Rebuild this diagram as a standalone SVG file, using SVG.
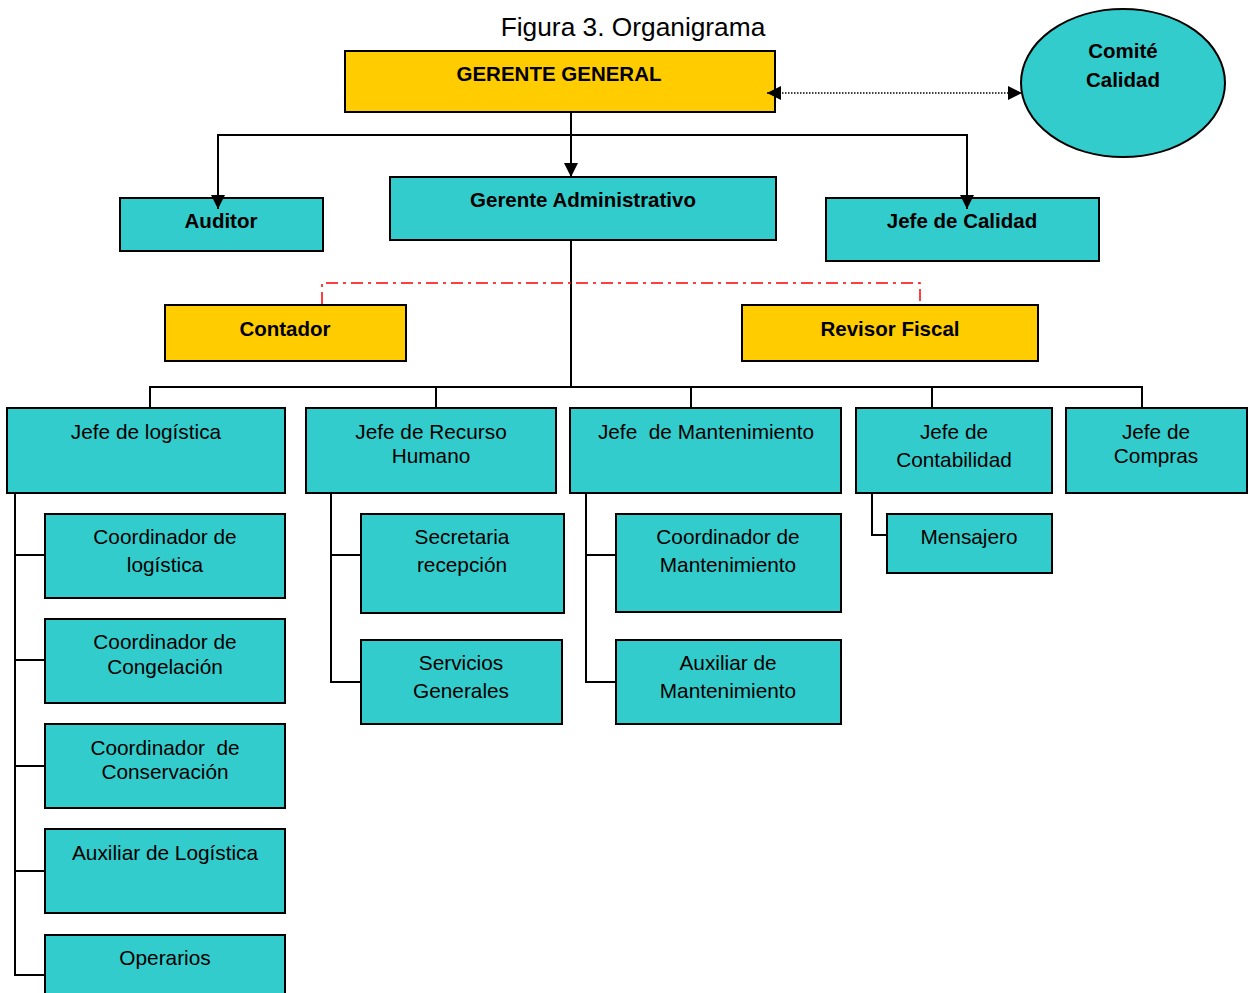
<svg xmlns="http://www.w3.org/2000/svg" width="1249" height="993" viewBox="0 0 1249 993">
<defs>
<marker id="arr" viewBox="0 0 10 10" refX="10" refY="5" markerWidth="14" markerHeight="14" markerUnits="userSpaceOnUse" orient="auto-start-reverse">
<path d="M0,0 L10,5 L0,10 z" fill="#000"/>
</marker>
<style>
.y{fill:#FFCC00;stroke:#000;stroke-width:2}
.c{fill:#33CCCC;stroke:#000;stroke-width:2}
.b{font-family:"Liberation Sans",Arial,sans-serif;font-weight:bold;font-size:20.5px;fill:#000;text-anchor:middle}
.t{font-family:"Liberation Sans",Arial,sans-serif;font-size:20.8px;fill:#000;text-anchor:middle}
.l{fill:none;stroke:#000;stroke-width:2}
</style>
</defs>
<rect width="1249" height="993" fill="#fff"/>
<text x="633" y="36" font-family="Liberation Sans, Arial, sans-serif" font-size="26.3" text-anchor="middle">Figura 3. Organigrama</text>

<g id="gerente-general"><rect class="y" x="345" y="51" width="430" height="61"/><text class="b" x="559" y="81">GERENTE GENERAL</text></g>
<g id="comite-calidad"><ellipse cx="1123" cy="83" rx="102" ry="74" fill="#33CCCC" stroke="#000" stroke-width="2"/><text class="b" x="1123" y="58">Comité</text><text class="b" x="1123" y="87">Calidad</text></g>
<g id="auditor"><rect class="c" x="120" y="198" width="203" height="53"/><text class="b" x="221" y="228">Auditor</text></g>
<g id="gerente-administrativo"><rect class="c" x="390" y="177" width="386" height="63"/><text class="b" x="583" y="207">Gerente Administrativo</text></g>
<g id="jefe-calidad"><rect class="c" x="826" y="198" width="273" height="63"/><text class="b" x="962" y="228">Jefe de Calidad</text></g>
<g id="contador"><rect class="y" x="165" y="305" width="241" height="56"/><text class="b" x="285" y="336">Contador</text></g>
<g id="revisor-fiscal"><rect class="y" x="742" y="305" width="296" height="56"/><text class="b" x="890" y="336">Revisor Fiscal</text></g>

<g id="jefe-logistica"><rect class="c" x="7" y="408" width="278" height="85"/><text class="t" x="146" y="439">Jefe de logística</text></g>
<g id="jefe-rrhh"><rect class="c" x="306" y="408" width="250" height="85"/><text class="t" x="431" y="439">Jefe de Recurso</text><text class="t" x="431" y="463">Humano</text></g>
<g id="jefe-mantenimiento"><rect class="c" x="570" y="408" width="271" height="85"/><text class="t" x="706" y="439" xml:space="preserve">Jefe  de Mantenimiento</text></g>
<g id="jefe-contabilidad"><rect class="c" x="856" y="408" width="196" height="85"/><text class="t" x="954" y="439">Jefe de</text><text class="t" x="954" y="467">Contabilidad</text></g>
<g id="jefe-compras"><rect class="c" x="1066" y="408" width="181" height="85"/><text class="t" x="1156" y="439">Jefe de</text><text class="t" x="1156" y="463">Compras</text></g>

<g id="coord-logistica"><rect class="c" x="45" y="514" width="240" height="84"/><text class="t" x="165" y="544">Coordinador de</text><text class="t" x="165" y="572">logística</text></g>
<g id="coord-congelacion"><rect class="c" x="45" y="619" width="240" height="84"/><text class="t" x="165" y="649">Coordinador de</text><text class="t" x="165" y="674">Congelación</text></g>
<g id="coord-conservacion"><rect class="c" x="45" y="724" width="240" height="84"/><text class="t" x="165" y="755" xml:space="preserve">Coordinador  de</text><text class="t" x="165" y="779">Conservación</text></g>
<g id="aux-logistica"><rect class="c" x="45" y="829" width="240" height="84"/><text class="t" x="165" y="860">Auxiliar de Logística</text></g>
<g id="operarios"><rect class="c" x="45" y="935" width="240" height="70"/><text class="t" x="165" y="965">Operarios</text></g>

<g id="secretaria"><rect class="c" x="361" y="514" width="203" height="99"/><text class="t" x="462" y="544">Secretaria</text><text class="t" x="462" y="572">recepción</text></g>
<g id="servicios"><rect class="c" x="361" y="640" width="201" height="84"/><text class="t" x="461" y="670">Servicios</text><text class="t" x="461" y="698">Generales</text></g>

<g id="coord-mantenimiento"><rect class="c" x="616" y="514" width="225" height="98"/><text class="t" x="728" y="544">Coordinador de</text><text class="t" x="728" y="572">Mantenimiento</text></g>
<g id="aux-mantenimiento"><rect class="c" x="616" y="640" width="225" height="84"/><text class="t" x="728" y="670">Auxiliar de</text><text class="t" x="728" y="698">Mantenimiento</text></g>

<g id="mensajero"><rect class="c" x="887" y="514" width="165" height="59"/><text class="t" x="969" y="544">Mensajero</text></g>

<g id="connectors">
<line x1="767" y1="93" x2="1022" y2="93" stroke="#000" stroke-width="1.5" stroke-dasharray="1.5,1.5" marker-start="url(#arr)" marker-end="url(#arr)"/>
<line class="l" x1="571" y1="113" x2="571" y2="177" marker-end="url(#arr)"/>
<polyline class="l" points="218,198 218,135 967,135 967,198"/>
<line class="l" x1="218" y1="190" x2="218" y2="209" marker-end="url(#arr)"/>
<line class="l" x1="967" y1="190" x2="967" y2="209" marker-end="url(#arr)"/>
<line class="l" x1="571" y1="241" x2="571" y2="387"/>
<polyline points="322,304 322,283 920,283 920,304" fill="none" stroke="#FF0000" stroke-width="1.5" stroke-dasharray="12,5,3,5"/>
<line class="l" x1="149" y1="387" x2="1143" y2="387"/>
<line class="l" x1="150" y1="387" x2="150" y2="407"/>
<line class="l" x1="436" y1="387" x2="436" y2="407"/>
<line class="l" x1="691" y1="387" x2="691" y2="407"/>
<line class="l" x1="932" y1="387" x2="932" y2="407"/>
<line class="l" x1="1142" y1="387" x2="1142" y2="407"/>
<polyline class="l" points="15,494 15,975 44,975"/>
<line class="l" x1="15" y1="555" x2="44" y2="555"/>
<line class="l" x1="15" y1="660" x2="44" y2="660"/>
<line class="l" x1="15" y1="766" x2="44" y2="766"/>
<line class="l" x1="15" y1="871" x2="44" y2="871"/>
<polyline class="l" points="331,494 331,682 360,682"/>
<line class="l" x1="331" y1="555" x2="360" y2="555"/>
<polyline class="l" points="586,494 586,682 615,682"/>
<line class="l" x1="586" y1="555" x2="615" y2="555"/>
<polyline class="l" points="872,494 872,535 886,535"/>
</g>
</svg>
